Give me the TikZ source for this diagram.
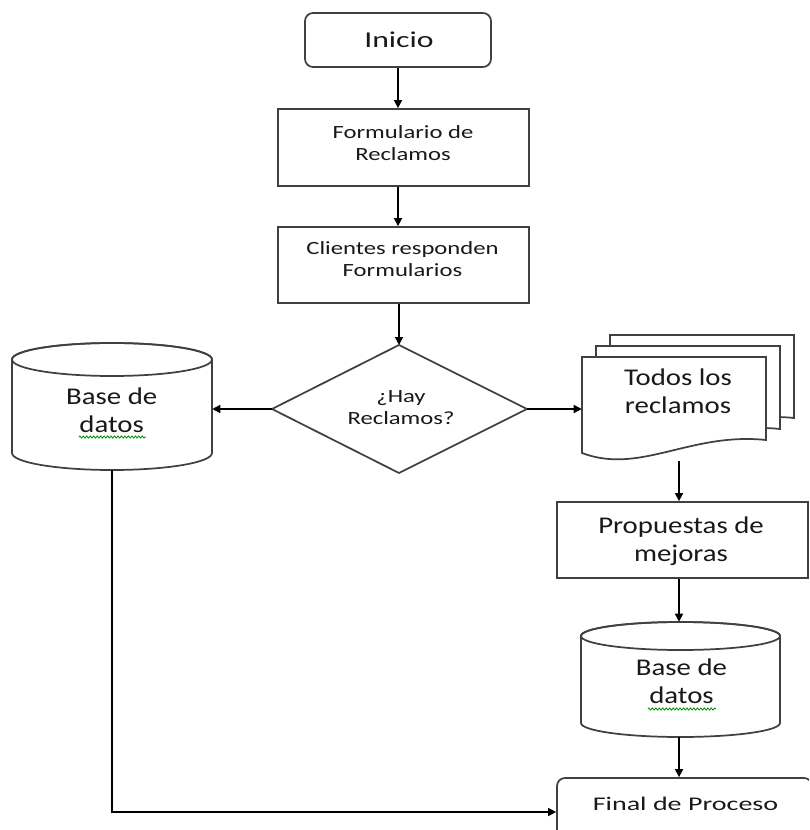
\documentclass[tikz,border=0pt]{standalone}
\usepackage{fontspec}
\setmainfont{Carlito}
\newfontfamily\fbig[FakeStretch=1.2]{Carlito}
\newfontfamily\fsmall[FakeStretch=1.32]{Carlito}
\newfontfamily\ffin[FakeStretch=1.45]{Carlito}
\newfontfamily\fini[FakeStretch=1.4]{Carlito}
\usetikzlibrary{arrows.meta,decorations.pathmorphing}
\begin{document}
\begin{tikzpicture}[x=0.75pt,y=-0.75pt,
 outl/.style={draw=black!75,line width=1.3pt,fill=white},
 box/.style={outl,inner sep=0pt},
 ghost/.style={draw=none,inner sep=0pt},
 arr/.style={-{Triangle[length=6pt,width=6pt]},line width=1.1pt,black},
 ln/.style={line width=1.1pt,black},
 bigtxt/.style={font=\fbig\fontsize{18}{21}\selectfont,align=center,text=black!90,inner sep=0pt},
 smalltxt/.style={font=\fsmall\fontsize{14}{16.5}\selectfont,align=center,text=black!90,inner sep=0pt},
 squig/.style={draw=green!55!black,line width=0.6pt,decorate,decoration={zigzag,amplitude=0.8pt,segment length=2.6pt}}]
\useasboundingbox (0,0) rectangle (809,830);
\clip (0,0) rectangle (809,830);

% Inicio
\node[box,rounded corners=6pt,minimum width=139.5pt,minimum height=40.5pt] (ini) at (398,40) {};
\node[font=\fini\fontsize{17}{20}\selectfont,text=black!90,inner sep=0pt] (iniT) at (399,39.5) {Inicio};

% Formulario
\node[box,minimum width=188.25pt,minimum height=57.75pt] (form) at (403.5,147.5) {};
\node[smalltxt] (formT) at (403,143) {Formulario de\\Reclamos};

% Clientes
\node[box,minimum width=188.25pt,minimum height=57pt] (cli) at (403.5,265) {};
\node[smalltxt] (cliT) at (402.5,259) {Clientes responden\\Formularios};

% Diamond
\draw[outl] (399,345) -- (527,409) -- (399,473) -- (272,409) -- cycle;
\node[ghost,minimum width=191.25pt,minimum height=96pt] (dec) at (399,409) {};
\coordinate (decN) at (399,345);
\coordinate (decW) at (272,409);
\coordinate (decE) at (527,409);
\node[smalltxt] (decT) at (401,407.5) {¿Hay\\Reclamos?};

% Left database
\draw[outl] (12,359.5) -- (12,453) arc[start angle=180,end angle=0,x radius=100,y radius=17]
  -- (212,359.5) arc[start angle=0,end angle=-180,x radius=100,y radius=16.5] -- cycle;
\draw[draw=black!75,line width=1.3pt] (112,359.5) ellipse[x radius=100,y radius=16.5];
\node[ghost,minimum width=150pt,minimum height=95.25pt] (db1) at (112,406.5) {};
\node[bigtxt] (db1T) at (111.7,410) {Base de\\datos};
\draw[squig] (79,437) -- (146,437);

% Document stack
\foreach \dx/\dy in {28/-22,14/-11}{
  \draw[outl,shift={(\dx,\dy)}] (582,357) -- (766,357) -- (766,440)
    .. controls (690,432) and (640,475) .. (582,453) -- cycle;
}
\draw[outl] (582,357) -- (766,357) -- (766,440)
    .. controls (690,432) and (640,475) .. (582,453) -- cycle;
\node[ghost,minimum width=138pt,minimum height=78pt] (doc) at (674,409) {};
\coordinate (docS) at (679,461);
\node[bigtxt] (docT) at (678,391) {Todos los\\reclamos};

% Propuestas
\node[box,minimum width=188.25pt,minimum height=57pt] (prop) at (682.5,540) {};
\node[bigtxt] (propT) at (681,541) {Propuestas de\\mejoras};

% Right database
\draw[outl] (581,636) -- (581,723) arc[start angle=180,end angle=0,x radius=99.5,y radius=14]
  -- (780,636) arc[start angle=0,end angle=-180,x radius=99.5,y radius=14] -- cycle;
\draw[draw=black!75,line width=1.3pt] (680.5,636) ellipse[x radius=99.5,y radius=14];
\node[ghost,minimum width=149.25pt,minimum height=86.25pt] (db2) at (680.5,679.5) {};
\node[bigtxt] (db2T) at (681.5,681) {Base de\\datos};
\draw[squig] (648,709) -- (716,709);

% Final
\node[box,rounded corners=6pt,minimum width=191.25pt,minimum height=51pt] (fin) at (684.5,812) {};
\node[font=\ffin\fontsize{14.5}{17}\selectfont,text=black!90,inner sep=0pt] (finT) at (685.5,803.7) {Final de Proceso};

% Connectors
\draw[arr] (ini.south) -- (ini.south |- form.north);
\draw[arr] (form.south -| ini.south) -- (ini.south |- cli.north);
\draw[arr] (decN |- cli.south) -- (decN);
\draw[arr] (decW) -- (decW -| db1.east);
\draw[arr] (decE) -- (decE -| doc.west);
\draw[arr] (docS) -- (docS |- prop.north);
\draw[arr] (prop.south -| docS) -- (docS |- db2.north);
\draw[arr] (db2.south -| docS) -- (docS |- fin.north);
\draw[arr] (db1.south) |- (fin.west);
\end{tikzpicture}
\end{document}
